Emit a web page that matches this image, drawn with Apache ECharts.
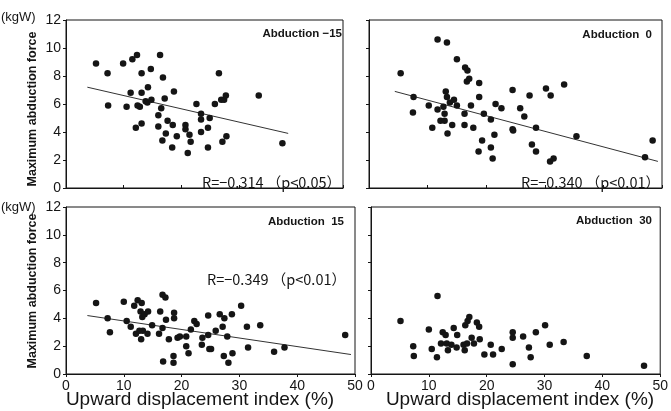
<!DOCTYPE html>
<html>
<head>
<meta charset="utf-8">
<script src="https://cdn.jsdelivr.net/npm/echarts@6/dist/echarts.min.js"></script>
<style>
  html, body { margin: 0; padding: 0; background: #fff; }
  #chart { width: 671px; height: 411px; }
</style>
</head>
<body>
<div id="chart"></div>
<script>
// points: [upward displacement index %, max abduction force kgW]
const ptsM15 = [
  [5.2, 8.9], [7.2, 8.2], [7.3, 5.9], [9.9, 8.9], [10.5, 5.8], [11.2, 6.8], [11.5, 9.2],
  [12.1, 4.3], [12.3, 9.5], [12.4, 5.9], [12.8, 5.8], [13.1, 8.2], [13.1, 6.8], [13.1, 4.6],
  [13.8, 6.2], [14.2, 7.2], [14.1, 6.1], [14.7, 8.5], [14.8, 6.3], [16.3, 9.5], [16.8, 7.9],
  [16.5, 5.7], [17.1, 6.4], [16.0, 5.2], [16.0, 4.4], [16.7, 3.4], [17.3, 3.9], [17.6, 4.8],
  [18.5, 4.5], [18.4, 2.9], [18.7, 6.9], [19.2, 3.7], [20.7, 4.5], [20.7, 4.2], [21.4, 3.8],
  [21.6, 3.3], [21.1, 2.5], [22.6, 6.0], [23.4, 5.3], [23.4, 4.9], [23.4, 4.0], [24.6, 4.3],
  [24.6, 2.9], [24.9, 5.0], [25.8, 6.0], [26.5, 8.2], [26.9, 6.3], [27.4, 6.3], [27.7, 6.6],
  [27.1, 3.3], [27.8, 3.7], [33.4, 6.6], [37.5, 3.2]
]
const pts0 = [
  [5.4, 8.2], [7.6, 6.5], [7.5, 5.4], [10.2, 5.9], [10.8, 4.3], [11.7, 10.6], [13.3, 10.4],
  [11.7, 5.6], [12.7, 5.8], [12.9, 5.3], [13.1, 6.9], [13.3, 6.5], [13.8, 6.1], [14.5, 6.3],
  [15.0, 5.9], [12.2, 4.8], [12.9, 4.8], [13.4, 3.9], [14.2, 4.5], [15.0, 9.2], [16.4, 8.6],
  [16.8, 8.4], [16.7, 7.6], [17.1, 7.8], [16.3, 5.3], [16.3, 4.5], [17.4, 5.9], [17.8, 4.3],
  [18.8, 7.5], [18.8, 6.5], [19.6, 5.3], [18.7, 2.6], [19.3, 3.4], [20.8, 4.9], [20.8, 2.9],
  [21.1, 2.1], [21.4, 3.8], [21.6, 6.0], [22.6, 5.7], [24.5, 7.0], [24.5, 4.2], [24.6, 4.1],
  [25.8, 5.7], [26.5, 5.1], [27.4, 6.6], [27.8, 3.1], [28.5, 2.6], [28.5, 4.3], [30.2, 7.1],
  [31.0, 6.6], [30.9, 1.9], [31.5, 2.1], [33.3, 7.4], [35.4, 3.7], [47.1, 2.2], [48.4, 3.4]
]
const pts15 = [
  [5.2, 5.1], [7.2, 4.0], [7.6, 3.0], [10.0, 5.2], [10.5, 3.8], [11.2, 3.4], [11.8, 4.9],
  [12.4, 5.3], [13.1, 5.1], [12.1, 2.9], [12.7, 3.1], [13.0, 2.5], [13.3, 3.1], [12.9, 4.5],
  [13.2, 4.1], [13.6, 4.3], [14.2, 4.5], [14.1, 2.9], [14.9, 3.5], [16.1, 2.9], [16.3, 4.5],
  [16.7, 3.3], [16.7, 5.7], [17.2, 5.5], [17.3, 3.9], [17.8, 2.5], [16.8, 0.9], [18.7, 4.0],
  [18.7, 4.4], [18.6, 1.3], [18.6, 0.8], [19.3, 2.6], [19.7, 2.7], [20.8, 2.7], [20.8, 2.0],
  [21.2, 1.5], [21.6, 3.2], [22.2, 3.8], [22.6, 3.6], [23.6, 2.6], [23.5, 2.1], [24.6, 4.2],
  [24.6, 2.8], [24.8, 1.8], [25.1, 1.8], [25.9, 3.1], [26.6, 4.3], [27.4, 4.0], [27.1, 3.4],
  [27.3, 1.3], [27.9, 2.7], [28.1, 0.8], [28.7, 4.3], [28.8, 1.5], [30.3, 4.9], [31.3, 3.4],
  [31.5, 1.9], [33.6, 3.5], [36.0, 1.6], [37.8, 1.9], [48.3, 2.8]
]
const pts30 = [
  [5.1, 3.8], [7.3, 2.0], [7.4, 1.3], [10.0, 3.2], [10.5, 1.8], [11.4, 1.2], [11.5, 5.6],
  [12.1, 2.2], [12.4, 3.0], [12.9, 2.8], [13.1, 2.2], [13.3, 1.7], [13.9, 2.1], [14.3, 3.3],
  [14.8, 1.9], [14.9, 2.8], [16.0, 2.1], [16.2, 1.7], [16.3, 3.5], [16.7, 3.8], [17.0, 4.1],
  [16.6, 2.2], [17.4, 2.6], [17.8, 2.2], [18.3, 3.7], [18.7, 3.4], [18.8, 2.5], [19.6, 1.4],
  [20.7, 2.1], [21.1, 1.4], [22.6, 1.8], [24.5, 3.0], [24.5, 2.6], [24.5, 0.7], [26.3, 2.7],
  [27.3, 1.9], [27.6, 1.2], [28.5, 3.0], [30.1, 3.5], [30.9, 2.1], [33.3, 2.3], [37.3, 1.3],
  [47.2, 0.6]
]

// regression line end points
const fitM15 = [[3.7, 7.2], [38.5, 3.9]]
const fit0 = [[4.4, 6.9], [49.3, 1.9]]
const fit15 = [[3.7, 4.2], [49.3, 1.4]]

const panelNames = ['Abduction \u221215', 'Abduction  0', 'Abduction  15', 'Abduction  30']
const rLabels = ['R=\u22120.314 （p<0.05）', 'R=\u22120.340 （p<0.01）', 'R=\u22120.349 （p<0.01）']
const yTicks = [0, 2, 4, 6, 8, 10, 12]
const xTicks = [0, 10, 20, 30, 40, 50]
const yUnit = '(kgW)'
const yTitle = 'Maximum abduction force'
const xTitle = 'Upward displacement index (%)'

const ink = '#151515'
const tickFont = 'Liberation Sans, Arial, sans-serif'

const grids = [
  { left: 66, top: 20, width: 277, height: 168 },
  { left: 369, top: 20, width: 293, height: 168 },
  { left: 66, top: 207, width: 289, height: 167 },
  { left: 371, top: 207, width: 291, height: 167 },
]

const makeX = (i) => {
  const bottom = i >= 2
  return {
    type: 'value',
    gridIndex: i,
    min: 0,
    // top-left frame is cut short in the scan, same px per unit as below
    max: i === 0 ? 48 : xTicks[xTicks.length - 1],
    interval: 10,
    splitLine: { show: false },
    axisLine: { show: true, onZero: false, lineStyle: { color: ink, width: 1 } },
    axisTick: { show: true, inside: !bottom, length: 3, lineStyle: { color: ink } },
    axisLabel: {
      show: bottom, color: ink, fontSize: 14, fontFamily: tickFont, margin: 5,
      showMinLabel: true, showMaxLabel: true,
    },
  }
}

const makeY = (i) => {
  const left = i % 2 === 0
  return {
    type: 'value',
    gridIndex: i,
    min: yTicks[0],
    max: yTicks[yTicks.length - 1],
    interval: 2,
    splitLine: { show: false },
    axisLine: { show: true, onZero: false, lineStyle: { color: ink, width: 1 } },
    axisTick: { show: true, length: 3, lineStyle: { color: ink } },
    axisLabel: { show: left, color: ink, fontSize: 14, fontFamily: tickFont, margin: 5 },
  }
}

const scatter = (data, i) => ({
  type: 'scatter',
  xAxisIndex: i,
  yAxisIndex: i,
  data: data,
  symbol: 'circle',
  symbolSize: 6.5,
  itemStyle: { color: ink, opacity: 1 },
  silent: true,
  z: 3,
})

const fitLine = (data, i) => ({
  type: 'line',
  xAxisIndex: i,
  yAxisIndex: i,
  data: data,
  symbol: 'none',
  lineStyle: { color: '#333', width: 1 },
  silent: true,
  z: 2,
})

const text = (str, x, y, opts) => ({
  type: 'text',
  x: x,
  y: y,
  rotation: opts.rotation || 0,
  style: {
    text: str,
    fill: ink,
    font: opts.font,
    textAlign: opts.align || 'left',
    textVerticalAlign: 'middle',
  },
})

const nameFont = 'bold 11.5px Liberation Sans, Arial, sans-serif'
const rFont = '14.5px Noto Sans CJK JP, sans-serif'
const titleFont = '19px Liberation Sans, Arial, sans-serif'

const option = {
  animation: false,
  backgroundColor: '#fff',
  grid: grids.map((g) => ({ ...g, show: true, borderColor: ink, borderWidth: 1, backgroundColor: 'transparent' })),
  xAxis: [0, 1, 2, 3].map(makeX),
  yAxis: [0, 1, 2, 3].map(makeY),
  series: [
    scatter(ptsM15, 0), scatter(pts0, 1), scatter(pts15, 2), scatter(pts30, 3),
    fitLine(fitM15, 0), fitLine(fit0, 1), fitLine(fit15, 2),
  ],
  graphic: [
    text(yUnit, 1, 17, { font: '13px Liberation Sans, Arial, sans-serif' }),
    text(yUnit, 1, 207, { font: '13px Liberation Sans, Arial, sans-serif' }),
    text(panelNames[0], 342, 34, { font: nameFont, align: 'right' }),
    text(panelNames[1], 652, 35, { font: nameFont, align: 'right' }),
    text(panelNames[2], 344, 222, { font: nameFont, align: 'right' }),
    text(panelNames[3], 652, 221, { font: nameFont, align: 'right' }),
    text(rLabels[0], 341, 182, { font: rFont, align: 'right' }),
    text(rLabels[1], 660, 182, { font: rFont, align: 'right' }),
    text(rLabels[2], 346, 279, { font: rFont, align: 'right' }),
    text(yTitle, 33, 109, { font: 'bold 12.5px Liberation Sans, Arial, sans-serif', align: 'center', rotation: Math.PI / 2 }),
    text(yTitle, 33, 291, { font: 'bold 12.5px Liberation Sans, Arial, sans-serif', align: 'center', rotation: Math.PI / 2 }),
    text(xTitle, 200, 400, { font: titleFont, align: 'center' }),
    text(xTitle, 520, 400, { font: titleFont, align: 'center' }),
  ],
}

const chart = echarts.init(document.getElementById('chart'), null, { renderer: 'canvas' })
chart.setOption(option)
</script>
</body>
</html>
